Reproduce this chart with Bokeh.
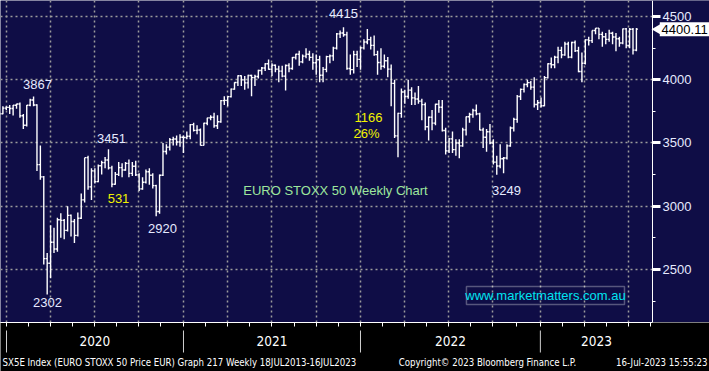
from bokeh.plotting import figure
from bokeh.models import Range1d, FixedTicker, Grid, LinearAxis, BoxAnnotation, ColumnDataSource
from bokeh.layouts import column
from bokeh.transform import dodge
from bokeh.core.properties import value
from bokeh.embed import file_html
from bokeh.resources import INLINE
import math

# Weekly bars (Friday closes) from 13-Dec-2019 (index 0) to 14-Jul-2023 (index 187)
opens = [3700, 3731, 3776, 3782, 3773, 3799, 3808, 3716, 3640, 3798, 3840, 3800, 3329, 3232, 2586, 2549,
         2715, 2662, 2893, 2888, 2809, 2928, 2880, 2770, 2905, 3050, 3384, 3153, 3280, 3195, 3320, 3345,
         3366, 3303, 3174, 3252, 3305, 3286, 3339, 3260, 3316, 3248, 3137, 3190, 3273, 3245, 3163, 2958,
         3245, 3433, 3467, 3527, 3532, 3508, 3546, 3543, 3553, 3645, 3600, 3603, 3481, 3656, 3699, 3703,
         3636, 3668, 3835, 3837, 3867, 3926, 3978, 4032, 3999, 3975, 4034, 4017, 4026, 4073, 4093, 4127,
         4083, 4115, 4084, 4068, 4029, 4113, 4089, 4176, 4201, 4141, 4187, 4202, 4177, 4134, 4158, 4036,
         4082, 4183, 4189, 4250, 4363, 4370, 4356, 4089, 4080, 4199, 4161, 4252, 4298, 4317, 4272, 4199,
         4136, 4107, 4150, 4084, 3971, 3556, 3734, 3903, 3868, 3918, 3857, 3848, 3831, 3803, 3629, 3704,
         3657, 3806, 3783, 3599, 3438, 3533, 3448, 3500, 3477, 3604, 3708, 3725, 3757, 3730, 3603, 3546,
         3589, 3500, 3349, 3318, 3375, 3381, 3477, 3618, 3687, 3868, 3924, 3962, 3977, 3942, 3804, 3818,
         3794, 4017, 4127, 4119, 4178, 4232, 4197, 4283, 4179, 4295, 4229, 4065, 4131, 4315, 4309, 4389,
         4408, 4359, 4340, 4319, 4368, 4338, 4324, 4290, 4402, 4271, 4399, 4234]
highs = [3745, 3790, 3790, 3800, 3800, 3810, 3820, 3730, 3800, 3850, 3867, 3806, 3480, 3240, 2630, 2850,
         2830, 2910, 2945, 2900, 3000, 2935, 2900, 2950, 3100, 3384, 3400, 3300, 3300, 3330, 3360, 3390,
         3451, 3320, 3270, 3350, 3340, 3350, 3370, 3350, 3360, 3260, 3230, 3290, 3300, 3260, 3170, 3250,
         3500, 3490, 3540, 3550, 3560, 3570, 3560, 3590, 3650, 3660, 3640, 3615, 3660, 3700, 3720, 3740,
         3720, 3840, 3870, 3870, 3930, 3980, 4035, 4035, 4030, 4040, 4040, 4040, 4080, 4100, 4130, 4160,
         4130, 4120, 4110, 4110, 4120, 4130, 4180, 4205, 4230, 4200, 4250, 4230, 4210, 4200, 4190, 4100,
         4190, 4200, 4260, 4370, 4390, 4415, 4380, 4200, 4230, 4230, 4260, 4320, 4401, 4340, 4350, 4230,
         4250, 4200, 4180, 4120, 4000, 3740, 3930, 3920, 4000, 3940, 3900, 3950, 3850, 3820, 3710, 3760,
         3810, 3840, 3840, 3620, 3540, 3590, 3530, 3530, 3620, 3710, 3740, 3770, 3805, 3740, 3620, 3610,
         3650, 3530, 3400, 3490, 3390, 3490, 3630, 3700, 3880, 3930, 3970, 4000, 3990, 4020, 3840, 3860,
         4030, 4130, 4175, 4190, 4260, 4260, 4300, 4300, 4300, 4310, 4260, 4215, 4320, 4340, 4390, 4410,
         4410, 4380, 4370, 4395, 4380, 4370, 4340, 4405, 4410, 4410, 4410, 4410]
lows = [3680, 3727, 3760, 3730, 3717, 3770, 3700, 3610, 3630, 3790, 3790, 3279, 3210, 2540, 2302, 2430,
        2630, 2640, 2750, 2740, 2800, 2760, 2710, 2760, 2900, 3030, 3130, 3050, 3180, 3190, 3250, 3300,
        3290, 3150, 3170, 3240, 3230, 3280, 3230, 3240, 3240, 3120, 3130, 3180, 3170, 3140, 2920, 2940,
        3240, 3410, 3440, 3480, 3480, 3470, 3420, 3530, 3530, 3590, 3570, 3480, 3480, 3640, 3680, 3620,
        3610, 3660, 3800, 3790, 3860, 3920, 3950, 3950, 3920, 3930, 3870, 3950, 4010, 4040, 4070, 4080,
        4030, 4060, 3980, 4020, 3915, 4060, 4080, 4160, 4110, 4130, 4170, 4150, 4080, 4040, 3980, 3980,
        4060, 4130, 4150, 4240, 4330, 4340, 4080, 4040, 4050, 4100, 4080, 4240, 4280, 4240, 4190, 4040,
        4080, 4090, 4020, 3790, 3540, 3387, 3700, 3810, 3850, 3800, 3800, 3810, 3680, 3600, 3520, 3600,
        3640, 3740, 3590, 3410, 3420, 3420, 3400, 3380, 3470, 3560, 3660, 3700, 3720, 3600, 3460, 3430,
        3490, 3330, 3249, 3300, 3260, 3370, 3470, 3590, 3660, 3840, 3900, 3940, 3920, 3780, 3760, 3780,
        3790, 4010, 4090, 4090, 4130, 4170, 4190, 4170, 4170, 4220, 4060, 3980, 4120, 4270, 4290, 4360,
        4320, 4260, 4280, 4300, 4280, 4225, 4260, 4280, 4250, 4250, 4200, 4225]
closes = [3731, 3776, 3782, 3773, 3799, 3808, 3716, 3640, 3798, 3840, 3800, 3329, 3232, 2586, 2549, 2715,
          2662, 2893, 2888, 2809, 2928, 2880, 2770, 2905, 3050, 3384, 3153, 3280, 3195, 3320, 3345, 3366,
          3303, 3174, 3252, 3305, 3286, 3339, 3260, 3316, 3248, 3137, 3190, 3273, 3245, 3163, 2958, 3245,
          3433, 3467, 3527, 3532, 3508, 3546, 3543, 3553, 3645, 3600, 3603, 3481, 3656, 3699, 3703, 3636,
          3668, 3835, 3837, 3867, 3926, 3978, 4032, 3999, 3975, 4034, 4017, 4026, 4073, 4093, 4127, 4083,
          4115, 4084, 4068, 4029, 4113, 4089, 4176, 4201, 4141, 4187, 4202, 4177, 4134, 4158, 4036, 4082,
          4183, 4189, 4250, 4363, 4370, 4356, 4089, 4080, 4199, 4161, 4252, 4298, 4317, 4272, 4199, 4136,
          4107, 4150, 4084, 3971, 3556, 3734, 3903, 3868, 3918, 3857, 3848, 3831, 3803, 3629, 3704, 3657,
          3806, 3783, 3599, 3438, 3533, 3448, 3500, 3477, 3604, 3708, 3725, 3757, 3730, 3603, 3546, 3589,
          3500, 3349, 3318, 3375, 3381, 3477, 3618, 3687, 3868, 3924, 3962, 3977, 3942, 3804, 3818, 3794,
          4017, 4127, 4119, 4178, 4232, 4197, 4283, 4179, 4295, 4229, 4065, 4131, 4315, 4309, 4389, 4408,
          4359, 4340, 4319, 4368, 4338, 4324, 4290, 4402, 4271, 4399, 4234, 4400.11]
bar_index = list(range(len(closes)))

price_ticks = [2500, 3000, 3500, 4000, 4500]
price_minor = [2250, 2750, 3250, 3750, 4250]
quarter_lines = [2.06, 14.97, 27.89, 40.81, 54.02, 66.94, 79.86, 93.07, 105.99,
                 118.9, 131.8, 144.74, 158.8, 171.76, 184.68]
year_lines = [2.06, 54.02, 105.99, 158.8]
years = ["2020", "2021", "2022", "2023"]
year_centres = [28.0, 80.0, 132.4, 175.3]
strip_ticks = [2.06, 8.5, 14.97, 21.4, 27.89, 34.3, 40.81, 47.4, 54.02, 60.5, 66.94, 73.4, 79.86,
               86.5, 93.07, 99.5, 105.99, 112.4, 118.9, 125.3, 131.8, 138.3, 144.74, 151.8, 158.8,
               165.3, 171.76, 178.2, 184.68, 191.1]

AXIS_AT = 191.72      # price scale sits at the right end of the bar area
X_END = 208.46
NAVY = "#0f0d46"
LABEL = "#e6eaff"
YELLOW = "#f2f200"
GREEN = "#9de69d"
CYAN = "#00e4f0"
FONT = "Liberation Sans"
NARROW = "DejaVu Sans Condensed"

p = figure(width=709, height=322, x_range=Range1d(0.294, X_END), y_range=Range1d(2081, 4626.5),
           x_axis_location=None, y_axis_location="right", toolbar_location=None,
           output_backend="svg", background_fill_color=NAVY, border_fill_color=NAVY,
           min_border=0, outline_line_color=None)
p.xgrid.visible = False

ya = p.yaxis[0]
ya.fixed_location = AXIS_AT
ya.ticker = FixedTicker(ticks=price_ticks, minor_ticks=price_minor)
ya.axis_line_color = "white"
ya.axis_line_width = 1
ya.major_tick_line_color = "white"
ya.major_tick_line_width = 3
ya.major_tick_in = 0
ya.major_tick_out = 8
ya.minor_tick_line_color = "white"
ya.minor_tick_in = 0
ya.minor_tick_out = 3
ya.major_label_text_color = LABEL
ya.major_label_text_font = FONT
ya.major_label_text_font_size = "13px"
ya.major_label_standoff = 2

p.ygrid.grid_line_color = "#9c9c9c"
p.ygrid.grid_line_dash = "2 3"
p.ygrid.grid_line_width = 1.5
p.add_layout(Grid(dimension=0, ticker=FixedTicker(ticks=quarter_lines),
                  grid_line_color="#9c9c9c", grid_line_dash="2 3", grid_line_width=1.5))
# keep the grid out of the price-scale strip
p.add_layout(BoxAnnotation(left=AXIS_AT, right=X_END + 5, fill_color=NAVY, fill_alpha=1,
                           line_color=None, level="underlay"))

src = ColumnDataSource(dict(x=bar_index, o=opens, h=highs, l=lows, c=closes))
p.segment(x0="x", y0="l", x1="x", y1="h", source=src, line_color="white", line_width=1.4)
p.segment(x0=dodge("x", -0.45), y0="o", x1="x", y1="o", source=src, line_color="white", line_width=1.4)
p.segment(x0="x", y0="c", x1=dodge("x", 0.45), y1="c", source=src, line_color="white", line_width=1.4)

# annotations
white_txt = dict(x=[11.16, 14.09, 32.88, 47.86, 100.99, 148.85],
                 y=[3962, 2239, 3536, 2824, 4524, 3124],
                 t=["3867", "2302", "3451", "2920", "4415", "3249"])
p.text(x="x", y="y", text="t", source=ColumnDataSource(white_txt), text_color=LABEL,
       text_font=value(FONT), text_font_size="13px", text_align="center", text_baseline="middle")
yellow_txt = dict(x=[34.94, 108.34, 107.75], y=[3061, 3702, 3575], t=["531", "1166", "26%"])
p.text(x="x", y="y", text="t", source=ColumnDataSource(yellow_txt), text_color=YELLOW,
       text_font=value(FONT), text_font_size="13px", text_align="center", text_baseline="middle")
p.text(x=[98.65], y=[3124], text=["EURO STOXX 50 Weekly Chart"], text_color=GREEN,
       text_font=value(FONT), text_font_size="13px", text_align="center", text_baseline="middle")

p.add_layout(BoxAnnotation(left=137.1, right=183.5, bottom=2223, top=2366,
                           fill_color=None, line_color="white", line_width=1.5, level="underlay"))
p.text(x=[160.3], y=[2294], text=["www.marketmatters.com.au"], text_color=CYAN,
       text_font=value(FONT), text_font_size="13px", text_align="center", text_baseline="middle")

# last-price tag on the price scale
last = closes[-1]
p.rect(x=[201.2], y=[last], width=50, height=14, width_units="screen", height_units="screen",
       fill_color="white", line_color=None)
p.scatter(x=[193.3], y=[last], marker="triangle", size=11, angle=math.pi / 2,
          fill_color="white", line_color=None)
p.text(x=[194.4], y=[last], text=[f"{last:.2f}"], text_color="black",
       text_font=value(FONT), text_font_size="13px", text_align="left", text_baseline="middle")

# footer strip
p2 = figure(width=709, height=49, x_range=Range1d(0.294, X_END), y_range=Range1d(49, 0),
            x_axis_location=None, y_axis_location=None, toolbar_location=None,
            output_backend="svg", background_fill_color="black", border_fill_color="black",
            min_border=0, outline_line_color=None)
p2.grid.visible = False
strip = LinearAxis(ticker=FixedTicker(ticks=[], minor_ticks=strip_ticks), bounds=(0.294, AXIS_AT),
                   axis_line_color="white", major_tick_line_color=None,
                   minor_tick_line_color="white", minor_tick_in=4, minor_tick_out=0,
                   major_label_standoff=0)
p2.add_layout(strip, "above")
p2.segment(x0=year_lines, y0=[8] * 4, x1=year_lines, y1=[30] * 4, line_color="#cfcfcf", line_width=1)
p2.text(x=year_centres, y=[18] * 4, text=years, text_color="white",
        text_font=value(NARROW), text_font_size="13.5px", text_align="center", text_baseline="middle")
foot = dict(x=[0.88, 117.2], t=["SX5E Index (EURO STOXX 50 Price EUR) Graph 217  Weekly 18JUL2013-16JUL2023",
                                "Copyright\u00a9 2023 Bloomberg Finance L.P."])
p2.text(x="x", y=40, text="t", source=ColumnDataSource(foot), text_color="white",
        text_font=value(NARROW), text_font_size="9.6px", text_align="left", text_baseline="middle")
p2.text(x=[207.9], y=[40], text=["16-Jul-2023 15:55:23"], text_color="white",
        text_font=value(NARROW), text_font_size="9.6px", text_align="right", text_baseline="middle")

layout = column(p, p2, spacing=0)
open("out.html", "w").write(file_html(layout, INLINE))
